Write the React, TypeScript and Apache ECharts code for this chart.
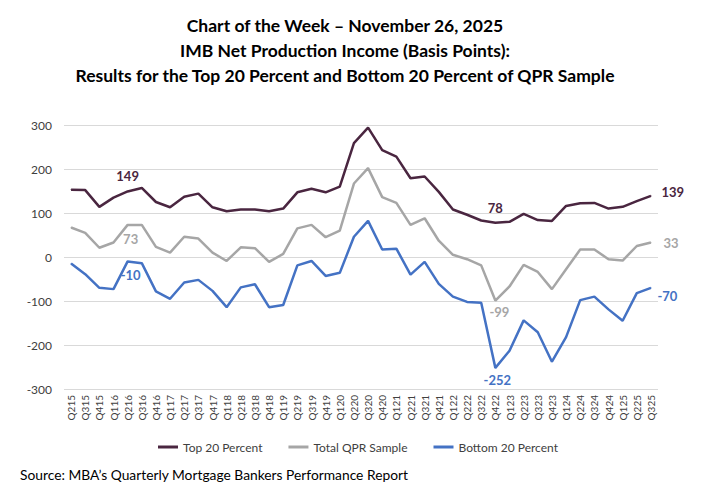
import React, { useEffect, useRef } from "react";
import * as echarts from "echarts";

const categories = [
  "Q215", "Q315", "Q415", "Q116", "Q216", "Q316", "Q416", "Q117", "Q217", "Q317",
  "Q417", "Q118", "Q218", "Q318", "Q418", "Q119", "Q219", "Q319", "Q419", "Q120",
  "Q220", "Q320", "Q420", "Q121", "Q221", "Q321", "Q421", "Q122", "Q222", "Q322",
  "Q422", "Q123", "Q223", "Q323", "Q423", "Q124", "Q224", "Q324", "Q424", "Q125",
  "Q225", "Q325",
];

const top20 = [
  153, 152, 114, 135, 149, 157, 125, 113, 137, 144,
  113, 104, 108, 108, 104, 110, 147, 155, 147, 160,
  259, 294, 243, 228, 179, 183, 148, 108, 96, 83,
  78, 80, 98, 84, 82, 116, 122, 123, 110, 114,
  127, 139,
];

const totalQPR = [
  67, 55, 21, 33, 73, 73, 23, 10, 46, 42,
  10, -9, 22, 20, -11, 7, 65, 73, 45, 60,
  167, 202, 136, 123, 73, 88, 37, 5, -5, -19,
  -99, -67, -18, -34, -73, -28, 17, 17, -5, -8,
  25, 33,
];

const bottom20 = [
  -15, -39, -70, -73, -10, -14, -78, -95, -58, -52,
  -77, -114, -69, -62, -114, -109, -19, -9, -43, -36,
  46, 82, 17, 19, -40, -11, -61, -90, -102, -104,
  -252, -213, -144, -171, -238, -182, -98, -90, -119, -145,
  -82, -70,
];

const yTicks = [-300, -200, -100, 0, 100, 200, 300];

const FONT = "Lato, 'Open Sans', sans-serif";
const C_TOP = "#4a2640";
const C_TOT = "#a6a6a6";
const C_BOT = "#4472c4";

function withLabels(values: number[], color: string, specs: Record<number, any>) {
  return values.map((v, i) => {
    const s = specs[i];
    if (!s) return v;
    return {
      value: v,
      label: {
        show: true,
        color,
        fontFamily: FONT,
        fontWeight: "bold",
        fontSize: 13,
        ...s,
      },
    };
  });
}

export default function App() {
  const ref = useRef<HTMLDivElement>(null);
  useEffect(() => {
    if (!ref.current) return;
    document.body.style.margin = "0";
    const chart = echarts.init(ref.current, null, { renderer: "svg" });
    const last = categories.length - 1;
    const iQ216 = categories.indexOf("Q216");
    const iQ422 = categories.indexOf("Q422");
    const lineSeries = (name: string, color: string, data: any[]) => ({
      name,
      type: "line",
      symbol: "circle",
      symbolSize: 1,
      showSymbol: true,
      showAllSymbol: true,
      lineStyle: { color, width: 2.5 },
      itemStyle: { color },
      label: { show: false },
      data,
    });
    chart.setOption({
      animation: false,
      backgroundColor: "#ffffff",
      title: {
        text: "Chart of the Week – November 26, 2025\nIMB Net Production Income (Basis Points):\nResults for the Top 20 Percent and Bottom 20 Percent of QPR Sample",
        left: 340,
        top: 8,
        textAlign: "center",
        textStyle: {
          fontFamily: FONT,
          fontWeight: "bold",
          fontSize: 17.5,
          lineHeight: 25,
          color: "#000000",
        },
      },
      legend: {
        bottom: 35,
        left: "center",
        itemWidth: 20,
        itemHeight: 3,
        itemGap: 26,
        icon: "rect",
        textStyle: { fontFamily: FONT, fontSize: 12, color: "#404040" },
        data: ["Top 20 Percent", "Total QPR Sample", "Bottom 20 Percent"],
      },
      graphic: [
        {
          type: "text",
          left: 20,
          top: 467,
          style: {
            text: "Source: MBA’s Quarterly Mortgage Bankers Performance Report",
            fontFamily: FONT,
            fontSize: 13.8,
            fill: "#000000",
          },
        },
      ],
      grid: { left: 64, right: 58, top: 125, bottom: 104, containLabel: false },
      xAxis: {
        type: "category",
        data: categories,
        boundaryGap: true,
        axisLine: { show: false },
        axisTick: { show: false },
        axisLabel: {
          rotate: 90,
          interval: 0,
          fontFamily: FONT,
          fontSize: 10,
          color: "#404040",
          margin: 6,
        },
      },
      yAxis: {
        type: "value",
        min: -300,
        max: 300,
        interval: 100,
        axisLine: { show: false },
        axisTick: { show: false },
        splitLine: { lineStyle: { color: "#d9d9d9", width: 1 } },
        axisLabel: {
          fontFamily: FONT,
          fontSize: 12,
          color: "#404040",
          margin: 12,
          formatter: (v: number) => (yTicks.includes(v) ? String(v) : ""),
        },
      },
      series: [
        lineSeries(
          "Top 20 Percent",
          C_TOP,
          withLabels(top20, C_TOP, {
            [iQ216]: { position: "top", distance: 8 },
            [iQ422]: { position: "top", distance: 8 },
            [last]: { position: "right", distance: 10, offset: [0, -4] },
          })
        ),
        lineSeries(
          "Total QPR Sample",
          C_TOT,
          withLabels(totalQPR, C_TOT, {
            [iQ216]: { position: "bottom", distance: 7, offset: [3, 0] },
            [iQ422]: { position: "bottom", distance: 4, offset: [4, 0] },
            [last]: { position: "right", distance: 12, offset: [0, 1] },
          })
        ),
        lineSeries(
          "Bottom 20 Percent",
          C_BOT,
          withLabels(bottom20, C_BOT, {
            [iQ216]: { position: "bottom", distance: 7, offset: [3, 0] },
            [iQ422]: { position: "bottom", distance: 5, offset: [2, 0] },
            [last]: { position: "right", distance: 6, offset: [0, 8] },
          })
        ),
      ],
    });
    return () => chart.dispose();
  }, []);
  return <div ref={ref} style={{ width: 716, height: 493 }} />;
}
